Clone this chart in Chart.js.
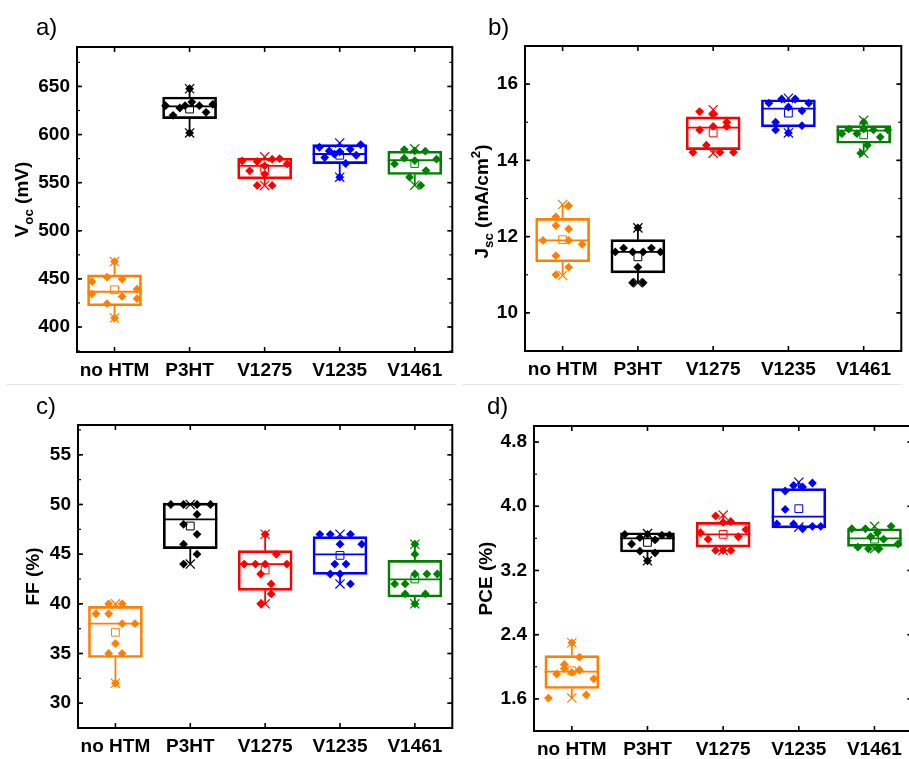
<!DOCTYPE html>
<html><head><meta charset="utf-8">
<script src="https://cdn.jsdelivr.net/npm/chart.js@4.4.1/dist/chart.umd.min.js"></script>
<style>
html,body{margin:0;padding:0;background:#fff;overflow:hidden;width:909px;height:759px;}
#wrap{position:relative;width:909px;height:759px;overflow:hidden;background:#fff;}
canvas{position:absolute;}
.sep{position:absolute;height:1px;background:#e6e6e6;}
</style></head><body>
<div id="wrap">
<div class="sep" style="left:6px;top:384px;width:450px"></div>
<div class="sep" style="left:462px;top:384px;width:440px"></div>
<canvas id="pa" width="460" height="380" style="left:0;top:0"></canvas>
<canvas id="pb" width="459" height="380" style="left:450px;top:0"></canvas>
<canvas id="pc" width="460" height="379" style="left:0;top:380px"></canvas>
<canvas id="pd" width="470" height="379" style="left:450px;top:380px"></canvas>
</div>
<script>
// ---------- data ----------
const categories = ['no HTM', 'P3HT', 'V1275', 'V1235', 'V1461'];

// a) Voc (mV)
const vocQ1 = [422.1, 616.5, 554.0, 569.8, 558.5];
const vocMedian = [436.6, 629.3, 567.5, 579.8, 573.3];
const vocQ3 = [454.2, 639.0, 575.4, 589.5, 582.7];
const vocLow = [409.3, 601.7, 547.1, 555.7, 547.4];
const vocHigh = [468.0, 647.6, 576.8, 591.3, 585.1];
const vocMean = [438.7, 626.5, 564.7, 578.5, 569.9];
const vocPoints = [
  [447.3, 451.8, 449.7, 434.5, 424.2, 431.8, 439.4, 429.4, 468.0, 409.3],
  [630.0, 620.0, 627.6, 630.0, 633.8, 630.0, 623.1, 631.4, 647.6, 601.7],
  [572.7, 562.3, 572.0, 567.5, 558.8, 547.1, 547.1, 574.4, 575.0, 569.5],
  [586.8, 576.1, 583.0, 579.6, 582.0, 569.9, 584.7, 578.5, 589.6, 555.7],
  [569.5, 584.4, 575.4, 583.0, 573.0, 555.7, 547.1, 582.7, 562.6, 574.4]
];
const vocJitter = [
  [-0.30, -0.10, 0.10, -0.30, -0.10, 0.10, 0.30, 0.30, 0, 0],
  [-0.32, -0.22, -0.13, -0.06, 0.03, 0.13, 0.22, 0.31, 0, 0],
  [-0.30, -0.20, -0.10, 0, 0, -0.10, 0.10, 0.10, 0.20, 0.30],
  [-0.27, -0.20, -0.14, -0.07, 0, 0.08, 0.14, 0.22, 0.28, 0],
  [-0.27, -0.14, -0.14, 0, 0, -0.07, 0.08, 0.14, 0.15, 0.29]
];
const vocTicks = [400, 450, 500, 550, 600, 650];

// b) Jsc (mA/cm2)
const jscQ1 = [11.34, 11.05, 14.28, 14.88, 14.45];
const jscMedian = [11.90, 11.60, 14.86, 15.36, 14.78];
const jscQ3 = [12.48, 11.92, 15.14, 15.59, 14.91];
const jscLow = [10.98, 10.79, 14.19, 14.72, 14.19];
const jscHigh = [12.84, 12.23, 15.33, 15.63, 15.05];
const jscMean = [11.92, 11.47, 14.72, 15.24, 14.67];
const jscPoints = [
  [11.90, 12.52, 12.29, 11.50, 12.20, 11.90, 12.81, 11.20, 11.80, 11.00],
  [11.60, 11.70, 11.60, 11.60, 11.70, 11.60, 11.20, 10.79, 10.79, 12.23],
  [14.21, 15.28, 14.80, 14.40, 15.20, 14.89, 14.21, 15.00, 14.89, 14.21],
  [15.50, 15.00, 14.80, 15.61, 15.40, 15.61, 15.30, 14.91, 15.50, 14.72],
  [14.70, 14.82, 14.70, 15.00, 14.82, 14.40, 14.80, 14.61, 14.80, 14.19]
];
const jscJitter = [
  [-0.26, -0.09, -0.09, -0.09, 0.08, 0.08, 0.08, 0.08, 0.26, -0.09],
  [-0.30, -0.19, -0.07, 0.07, 0.18, 0.30, 0, -0.07, 0.07, 0],
  [-0.27, -0.18, -0.18, -0.09, 0, 0, 0.09, 0.18, 0.18, 0.27],
  [-0.26, -0.17, -0.17, -0.09, 0, 0.09, 0.18, 0.18, 0.27, 0],
  [-0.29, -0.20, -0.09, 0, 0, 0.05, 0.13, 0.22, 0.32, -0.04]
];
const jscTicks = [10, 12, 14, 16];

// c) FF (%)
const ffQ1 = [34.6, 45.55, 41.36, 42.97, 40.69];
const ffMedian = [38.0, 48.5, 44.0, 44.98, 42.47];
const ffQ3 = [39.75, 50.14, 45.35, 46.76, 44.38];
const ffLow = [32, 44, 40, 42, 40];
const ffHigh = [40, 50, 47, 47, 46];
const ffMean = [37.14, 47.83, 43.4, 44.88, 42.5];
const ffPoints = [
  [39, 39, 35, 36, 35, 38, 38, 40, 40, 32],
  [50, 50, 50, 50, 49, 48, 47, 46, 45, 44],
  [44, 44, 44, 43, 45, 44, 42, 41, 40, 47],
  [47, 47, 47, 46, 46, 44, 44, 43, 43, 42],
  [46, 45, 42, 42, 41, 43, 43, 43, 41, 40]
];
const ffJitter = [
  [-0.26, -0.09, -0.09, 0, 0.09, 0.09, 0.26, -0.09, 0.09, 0],
  [-0.26, -0.09, 0.09, 0.27, 0.09, -0.09, 0.09, -0.09, 0.09, -0.09],
  [-0.28, -0.13, 0, -0.06, 0.15, 0.29, 0.08, 0.08, -0.06, 0],
  [-0.27, -0.13, 0.14, 0, 0.29, -0.07, 0.08, -0.13, 0, 0.14],
  [0, 0, -0.27, -0.13, -0.13, 0, 0.16, 0.30, 0.14, 0]
];
const ffTicks = [30, 35, 40, 45, 50, 55];

// d) PCE (%)
const pceQ1 = [1.73, 3.43, 3.49, 3.73, 3.50];
const pceMedian = [1.94, 3.60, 3.65, 3.87, 3.60];
const pceQ3 = [2.14, 3.67, 3.80, 4.22, 3.72];
const pceLow = [1.61, 3.32, 3.45, 3.74, 3.47];
const pceHigh = [2.30, 3.66, 3.89, 4.30, 3.75];
const pceMean = [1.95, 3.55, 3.65, 3.97, 3.59];
const pcePoints = [
  [1.61, 1.91, 2.03, 1.98, 1.93, 1.96, 2.12, 1.65, 1.85, 2.30],
  [3.65, 3.53, 3.61, 3.65, 3.58, 3.64, 3.64, 3.44, 3.42, 3.32],
  [3.67, 3.59, 3.88, 3.80, 3.81, 3.62, 3.71, 3.45, 3.45, 3.45],
  [3.78, 4.19, 3.96, 4.26, 3.78, 4.24, 3.72, 4.29, 3.75, 3.75],
  [3.72, 3.49, 3.72, 3.47, 3.62, 3.67, 3.47, 3.59, 3.75, 3.53]
];
const pceJitter = [
  [-0.31, -0.20, -0.10, -0.10, 0, 0.10, 0.10, 0.19, 0.29, 0],
  [-0.30, -0.21, -0.10, 0, 0.10, 0.19, 0.29, -0.10, 0.10, 0],
  [-0.30, -0.20, -0.10, 0, 0.10, 0.20, 0.30, -0.10, 0, 0.10],
  [-0.29, -0.18, -0.18, -0.07, -0.07, 0.05, 0.05, 0.18, 0.18, 0.29],
  [-0.30, -0.22, -0.12, -0.08, -0.05, 0.04, 0.06, 0.12, 0.22, 0.31]
];
const pceTicks = [1.6, 2.4, 3.2, 4.0, 4.8];

// ---------- styling ----------
const COLORS = ['#FF8000', '#000000', '#FF0000', '#0000FF', '#008000'];
const BOX_HALF = 0.36;
const FONT = '"Liberation Sans", Arial, Helvetica, sans-serif';
const colAt = x => COLORS[Math.max(0, Math.min(4, Math.round(x)))];

const decor = {
  id: 'decor',
  afterDraw(chart, args, o) {
    const {ctx, chartArea: ca, scales} = chart;
    const xs = scales.x, ys = scales.y;
    ctx.save();
    ctx.strokeStyle = '#000';
    ctx.lineWidth = 1.2;
    const ln = (x1, y1, x2, y2) => { ctx.beginPath(); ctx.moveTo(x1, y1); ctx.lineTo(x2, y2); ctx.stroke(); };
    for (let v = Math.ceil(ys.min / o.minorStep - 1e-9) * o.minorStep; v <= ys.max + 1e-9; v += o.minorStep) {
      const p = ys.getPixelForValue(v);
      ln(ca.left, p, ca.left + 3, p); ln(ca.right, p, ca.right - 3, p);
    }
    ctx.lineWidth = 1.6;
    o.major.forEach(v => {
      const p = ys.getPixelForValue(v);
      ln(ca.left, p, ca.left + 5, p); ln(ca.right, p, ca.right - 5, p);
    });
    categories.forEach((c, i) => {
      const p = xs.getPixelForValue(i);
      ln(p, ca.bottom, p, ca.bottom - 5); ln(p, ca.top, p, ca.top + 5);
    });
    ctx.lineWidth = 2;
    ctx.strokeRect(ca.left, ca.top, ca.right - ca.left, ca.bottom - ca.top);
    ctx.fillStyle = '#000';
    ctx.font = '24px ' + FONT;
    ctx.textBaseline = 'middle';
    ctx.textAlign = 'left';
    ctx.fillText(o.label, o.labelX, o.labelY);
    const size = 19;
    ctx.translate(o.titleX, (ca.top + ca.bottom) / 2 + (o.titleDy || 0));
    ctx.rotate(-Math.PI / 2);
    const parts = o.title.map(s => {
      const fs = (s.sub || s.sup) ? size * 0.7 : size;
      const f = 'bold ' + fs + 'px ' + FONT;
      ctx.font = f;
      return {t: s.t, f, w: ctx.measureText(s.t).width, dy: s.sub ? size * 0.28 : (s.sup ? -size * 0.42 : 0)};
    });
    let x = -parts.reduce((a, p) => a + p.w, 0) / 2;
    ctx.textBaseline = 'alphabetic';
    parts.forEach(p => { ctx.font = p.f; ctx.fillText(p.t, x, size * 0.36 + p.dy); x += p.w; });
    ctx.restore();
  }
};

function makePanel(id, s) {
  const boxes = categories.map((c, i) => ({x: i, y: [s.q1[i], s.q3[i]]}));
  const whiskers = [], medians = [], extremes = [], points = [];
  categories.forEach((c, i) => {
    whiskers.push({x: i, y: s.q3[i]}, {x: i, y: s.hi[i]}, {x: i, y: null},
                  {x: i, y: s.q1[i]}, {x: i, y: s.lo[i]}, {x: i, y: null});
    medians.push({x: i - BOX_HALF, y: s.med[i]}, {x: i + BOX_HALF, y: s.med[i]}, {x: i, y: null});
    extremes.push({x: i, y: s.hi[i]}, {x: i, y: s.lo[i]});
    s.pts[i].forEach((v, k) => points.push({x: i + s.jit[i][k], y: v}));
  });
  const means = categories.map((c, i) => ({x: i, y: s.mean[i]}));
  const ptColor = ctx => colAt(ctx.raw ? ctx.raw.x : 0);

  new Chart(document.getElementById(id), {
    type: 'bar',
    data: {
      datasets: [
        {type: 'scatter', label: 'data', data: points, order: 0, pointStyle: 'rectRot', pointRadius: 4.4,
         pointBackgroundColor: ptColor, pointBorderColor: ptColor, pointBorderWidth: 0},
        {type: 'scatter', label: 'min/max', data: extremes, order: 1, pointStyle: 'crossRot', pointRadius: 6.5,
         pointBorderColor: ptColor, pointBackgroundColor: 'rgba(0,0,0,0)', pointBorderWidth: 1.2},
        {type: 'scatter', label: 'mean', data: means, order: 2, pointStyle: 'rect', pointRadius: 5.5,
         pointBorderColor: ptColor, pointBackgroundColor: 'rgba(0,0,0,0)', pointBorderWidth: 1},
        {type: 'line', label: 'median', data: medians, order: 3, showLine: true, spanGaps: false, pointRadius: 0,
         borderWidth: 1.8, fill: false, segment: {borderColor: c => colAt(c.p0.parsed.x)}},
        {type: 'line', label: 'whisker', data: whiskers, order: 4, showLine: true, spanGaps: false, pointRadius: 0,
         borderWidth: 1.8, fill: false, segment: {borderColor: c => colAt(c.p0.parsed.x)}},
        {type: 'bar', label: 'box', data: boxes, order: 5, barThickness: 54,
         backgroundColor: 'rgba(0,0,0,0)', borderColor: COLORS, borderWidth: 2, borderSkipped: false}
      ]
    },
    options: {
      responsive: false, animation: false, events: [],
      layout: {padding: {top: s.padTop, right: s.padRight, left: 0, bottom: 0}},
      plugins: {
        legend: {display: false}, tooltip: {enabled: false},
        decor: {label: s.label, labelX: s.labelX, labelY: s.labelY, title: s.title, titleX: s.titleX,
                titleDy: s.titleDy, major: s.ticks, minorStep: s.minor}
      },
      scales: {
        x: {type: 'linear', min: -0.5, max: 4.5, offset: false,
            grid: {display: false, drawTicks: false}, border: {display: false},
            afterBuildTicks: sc => { sc.ticks = categories.map((c, i) => ({value: i})); },
            afterFit: sc => { sc.height = s.xH; sc.paddingLeft = 0; sc.paddingRight = 0; },
            ticks: {autoSkip: false, maxRotation: 0, padding: 7, color: '#000',
                    font: {family: FONT, size: 19, weight: 'bold'},
                    callback: v => categories[Math.round(v)]}},
        y: {type: 'linear', min: s.min, max: s.max,
            grid: {display: false, drawTicks: false}, border: {display: false},
            afterBuildTicks: sc => { sc.ticks = s.ticks.map(v => ({value: v})); },
            afterFit: sc => { sc.width = s.yW; sc.paddingTop = 0; sc.paddingBottom = 0; },
            ticks: {padding: 7, color: '#000', font: {family: FONT, size: 19, weight: 'bold'},
                    callback: v => s.fmt(v)}}
      }
    },
    plugins: [decor]
  });
}

makePanel('pa', {q1: vocQ1, med: vocMedian, q3: vocQ3, lo: vocLow, hi: vocHigh, mean: vocMean,
  pts: vocPoints, jit: vocJitter, ticks: vocTicks, minor: 25, min: 374, max: 691, fmt: v => String(v),
  padTop: 47, padRight: 6, yW: 77, xH: 28, label: 'a)', labelX: 36, labelY: 28,
  title: [{t: 'V'}, {t: 'oc', sub: true}, {t: ' (mV)'}], titleX: 21, titleDy: 0});
makePanel('pb', {q1: jscQ1, med: jscMedian, q3: jscQ3, lo: jscLow, hi: jscHigh, mean: jscMean,
  pts: jscPoints, jit: jscJitter, ticks: jscTicks, minor: 1, min: 9, max: 17, fmt: v => String(v),
  padTop: 46, padRight: 6, yW: 75, xH: 29, label: 'b)', labelX: 38, labelY: 28,
  title: [{t: 'J'}, {t: 'sc', sub: true}, {t: ' (mA/cm'}, {t: '2', sup: true}, {t: ')'}], titleX: 31, titleDy: 3});
makePanel('pc', {q1: ffQ1, med: ffMedian, q3: ffQ3, lo: ffLow, hi: ffHigh, mean: ffMean,
  pts: ffPoints, jit: ffJitter, ticks: ffTicks, minor: 2.5, min: 27.5, max: 58, fmt: v => String(v),
  padTop: 45, padRight: 6, yW: 78, xH: 31, label: 'c)', labelX: 36, labelY: 27,
  title: [{t: 'FF (%)'}], titleX: 32, titleDy: 0});
makePanel('pd', {q1: pceQ1, med: pceMedian, q3: pceQ3, lo: pceLow, hi: pceHigh, mean: pceMean,
  pts: pcePoints, jit: pceJitter, ticks: pceTicks, minor: 0.4, min: 1.2, max: 5.0, fmt: v => v.toFixed(1),
  padTop: 46, padRight: 6.4, yW: 84, xH: 28, label: 'd)', labelX: 37, labelY: 27,
  title: [{t: 'PCE (%)'}], titleX: 35, titleDy: 0});
</script>
</body></html>
